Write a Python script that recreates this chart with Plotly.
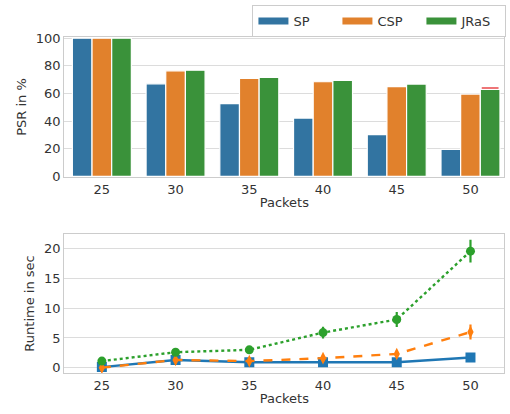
import plotly.graph_objects as go

packets = ["25", "30", "35", "40", "45", "50"]
series = ["SP", "CSP", "JRaS"]

psr_sp = [100, 67, 52.6, 42.2, 30.2, 19.5]
psr_csp = [100, 76.4, 70.9, 68.5, 64.9, 59.6]
psr_jras = [100, 76.9, 71.6, 69.4, 66.8, 63.0]
# small red marker seen above the JRaS bar at 50 packets
psr_upper = [[None] * 6, [None] * 6, [None, None, None, None, None, 64.0]]

rt_sp = [0.1, 1.3, 0.9, 0.9, 0.9, 1.7]
rt_sp_err = [0.1, 0.3, 0.2, 0.2, 0.2, 0.5]
rt_csp = [0.0, 1.3, 1.1, 1.6, 2.3, 6.0]
rt_csp_err = [0.3, 0.5, 0.4, 0.5, 0.6, 1.25]
rt_jras = [1.1, 2.6, 3.0, 5.9, 8.1, 19.6]
rt_jras_err = [0.3, 0.4, 0.4, 1.0, 1.25, 1.9]

bar_colors = ["#3274a1", "#e1812c", "#3a923a"]
line_colors = ["#1f77b4", "#ff7f0e", "#2ca02c"]

FONT = "DejaVu Sans"
TXT = "#333333"
GRID = "#dcdcdc"
FRAME = "#cccccc"

fig = go.Figure()

psr_vals = [psr_sp, psr_csp, psr_jras]
for i, (name, vals) in enumerate(zip(series, psr_vals)):
    fig.add_trace(go.Bar(
        x=packets, y=vals, name=name, xaxis="x", yaxis="y",
        offsetgroup=name,
        marker=dict(color=bar_colors[i], line=dict(color="white", width=1.2)),
        showlegend=False))

for i, name in enumerate(series):
    fig.add_trace(go.Scatter(
        x=packets, y=psr_upper[i], xaxis="x", yaxis="y", mode="markers",
        offsetgroup=name, showlegend=False, hoverinfo="skip",
        marker=dict(symbol="line-ew", size=12, color="#e8474a",
                    line=dict(color="#e8474a", width=1.6))))

rt_vals = [rt_sp, rt_csp, rt_jras]
rt_errs = [rt_sp_err, rt_csp_err, rt_jras_err]
dashes = ["solid", "dash", "dot"]
symbols = ["square", "diamond-tall", "circle"]
msizes = [10, 9, 9]
for i, name in enumerate(series):
    fig.add_trace(go.Scatter(
        x=packets, y=rt_vals[i], name=name, xaxis="x2", yaxis="y2",
        mode="lines+markers", offsetgroup="rt",
        line=dict(color=line_colors[i], width=2.4, dash=dashes[i]),
        marker=dict(color=line_colors[i], symbol=symbols[i], size=msizes[i]),
        error_y=dict(type="data", array=rt_errs[i], color=line_colors[i],
                     thickness=2.2, width=0),
        showlegend=False))

# legend patches (legend-only entries)
for i, name in enumerate(series):
    fig.add_trace(go.Scatter(
        x=[None], y=[None], name=name, xaxis="x2", yaxis="y2", mode="lines",
        offsetgroup="rt",
        line=dict(color=bar_colors[i], width=7), showlegend=True))

axis_common = dict(
    showline=True, linecolor=FRAME, linewidth=1.2, mirror=True,
    gridcolor=GRID, gridwidth=1, zeroline=False, automargin=False,
    tickfont=dict(family=FONT, size=13, color=TXT), ticks="",
)

def ttl(t, s):
    return dict(text=t, font=dict(family=FONT, size=13, color=TXT), standoff=s)

XDOM = [0.126, 0.989]
XRANGE = [-0.51, 5.46]

fig.update_layout(
    width=510, height=414,
    margin=dict(l=0, r=0, t=0, b=0, pad=0, autoexpand=False),
    paper_bgcolor="white", plot_bgcolor="white",
    font=dict(family=FONT, size=13, color=TXT),
    barmode="group", bargap=0.2, bargroupgap=0,
    scattermode="group", scattergap=0.2,
    xaxis=dict(domain=XDOM, anchor="y", type="category",
               range=XRANGE, showgrid=False, title=ttl("Packets", 2),
               **axis_common),
    yaxis=dict(domain=[0.572, 0.911], anchor="x", range=[-0.6, 101],
               tickvals=[0, 20, 40, 60, 80, 100], title=ttl("PSR in %", 6),
               **axis_common),
    xaxis2=dict(domain=XDOM, anchor="y2", type="category",
                range=XRANGE, showgrid=False, title=ttl("Packets", 2),
                **axis_common),
    yaxis2=dict(domain=[0.099, 0.435], anchor="x2", range=[-0.9, 22.5],
                tickvals=[0, 5, 10, 15, 20], title=ttl("Runtime in sec", 6),
                **axis_common),
    legend=dict(orientation="h", x=0.993, y=0.988, xanchor="right", yanchor="top",
                bordercolor=FRAME, borderwidth=1, bgcolor="white",
                font=dict(family=FONT, size=13, color=TXT),
                entrywidth=39, itemwidth=30),
)

fig.write_html("out.html", config={"displayModeBar": False},
               post_script="document.body.style.margin='0px';")
